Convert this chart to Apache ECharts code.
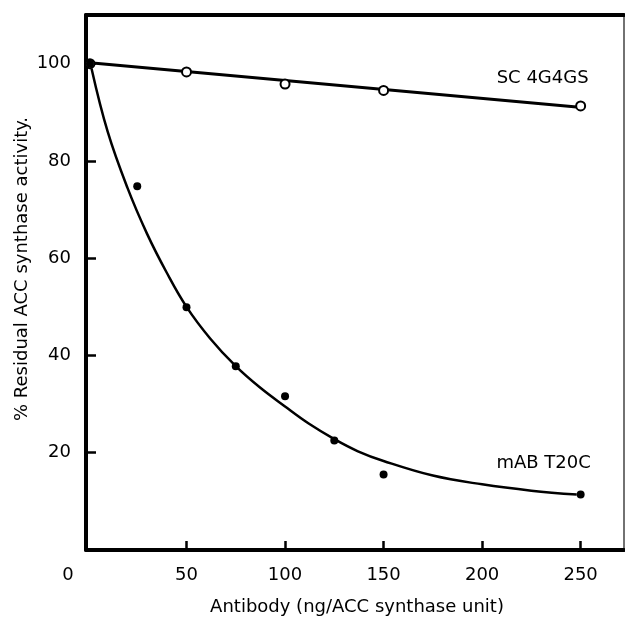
<!DOCTYPE html>
<html>
<head>
<meta charset="utf-8">
<script src="https://cdn.jsdelivr.net/npm/echarts@6/dist/echarts.min.js"></script>
<style>html,body{margin:0;padding:0;background:#fff;}#chart{width:625px;height:621px;}</style>
</head>
<body>
<div id="chart"></div>
<script>
// Tick labels
const xTickLabels = [0, 50, 100, 150, 200, 250];
const xTickMarks = [50, 100, 150, 200, 250];
const yTickLabels = [20, 40, 60, 80, 100];

// Axis titles
const xTitle = 'Antibody (ng/ACC synthase unit)';
const yTitle = '% Residual ACC synthase activity.';

// SC 4G4GS (open circles)
const scDose = [1, 50, 100, 150, 250];
const scActivity = [100, 98.3, 95.8, 94.5, 91.3];
// fitted line for SC 4G4GS
const scFitDose = [1, 248];
const scFitActivity = [100.2, 91.1];

// mAB T20C (filled dots)
const mabDose = [1, 25, 50, 75, 100, 125, 150, 250];
const mabActivity = [100, 74.8, 49.9, 37.8, 31.6, 22.5, 15.5, 11.4];
// fitted curve for mAB T20C
const mabFitDose = [1.8, 10, 20, 30, 40, 50, 62, 75, 87, 100, 112, 125, 137, 150, 175, 200, 225, 248];
const mabFitActivity = [99, 86, 74.5, 65, 57, 50, 43.5, 37.8, 33.5, 29.5, 26, 22.8, 20.3, 18.3, 15.3, 13.5, 12.2, 11.4];

const seriesNames = ['SC 4G4GS', 'mAB T20C'];

const zip = (a, b) => a.map((v, i) => [v, b[i]]);
const FONT = 'DejaVu Sans';

const chart = echarts.init(document.getElementById('chart'), null, {renderer: 'canvas'});
const option = {
  animation: false,
  backgroundColor: '#fff',
  grid: {left: 86, right: 1, top: 15, bottom: 69, show: true, borderColor: '#444', borderWidth: 1.5, containLabel: false},
  graphic: [{
    type: 'text',
    x: 22, y: 269,
    rotation: Math.PI / 2,
    style: {text: yTitle, fontFamily: FONT, fontSize: 18, fill: '#000', align: 'center', verticalAlign: 'middle'}
  }],
  xAxis: [{
    type: 'value', min: -1, max: 272,
    name: xTitle, nameLocation: 'middle', nameGap: 48,
    nameTextStyle: {fontFamily: FONT, fontSize: 18, color: '#000', padding: [0, 0, 0, 4]},
    axisLine: {show: true, onZero: false, lineStyle: {color: '#000', width: 4}},
    axisTick: {show: true, inside: true, length: 9, lineStyle: {color: '#000', width: 2.5}, customValues: xTickMarks},
    axisLabel: {
      show: true, margin: 16, color: '#000', fontFamily: FONT, fontSize: 18,
      customValues: xTickLabels,
      formatter: v => v === 0 ? '{z|0}' : String(v),
      rich: {z: {fontFamily: FONT, fontSize: 18, color: '#000', padding: [0, 40, 0, 0]}}
    },
    splitLine: {show: false}
  }, {
    type: 'value', position: 'top', min: -1, max: 272,
    axisLine: {show: true, onZero: false, lineStyle: {color: '#000', width: 4}},
    axisTick: {show: false}, axisLabel: {show: false}, splitLine: {show: false}
  }],
  yAxis: {
    type: 'value', min: 0, max: 110,
    axisLine: {show: true, onZero: false, lineStyle: {color: '#000', width: 4}},
    axisTick: {show: true, inside: true, length: 10, lineStyle: {color: '#000', width: 2.5}, customValues: yTickLabels},
    axisLabel: {show: true, margin: 15, color: '#000', fontFamily: FONT, fontSize: 18, customValues: yTickLabels},
    splitLine: {show: false}
  },
  series: [
    {
      name: seriesNames[0] + ' fit', type: 'line', data: zip(scFitDose, scFitActivity),
      showSymbol: false, symbol: 'none', lineStyle: {color: '#000', width: 3}, z: 2, silent: true
    },
    {
      name: seriesNames[1] + ' fit', type: 'line', data: zip(mabFitDose, mabFitActivity),
      smooth: 0.4, showSymbol: false, symbol: 'none', lineStyle: {color: '#000', width: 2.5}, z: 2, silent: true
    },
    {
      name: seriesNames[0], type: 'scatter', data: zip(scDose, scActivity),
      symbol: 'circle', symbolSize: 9,
      itemStyle: {color: '#fff', borderColor: '#000', borderWidth: 2, opacity: 1},
      z: 4,
      label: {
        show: true, position: 'inside', color: '#000', fontFamily: FONT, fontSize: 18,
        formatter: p => p.dataIndex === scDose.length - 1 ? seriesNames[0] : '',
        offset: [-38, -28]
      }
    },
    {
      name: seriesNames[1], type: 'scatter', data: zip(mabDose, mabActivity),
      symbol: 'circle', symbolSize: 8,
      itemStyle: {color: '#000', opacity: 1},
      z: 5,
      label: {
        show: true, position: 'inside', color: '#000', fontFamily: FONT, fontSize: 18,
        formatter: p => p.dataIndex === mabDose.length - 1 ? seriesNames[1] : '',
        offset: [-37, -31]
      }
    }
  ]
};
chart.setOption(option);
</script>
</body>
</html>
